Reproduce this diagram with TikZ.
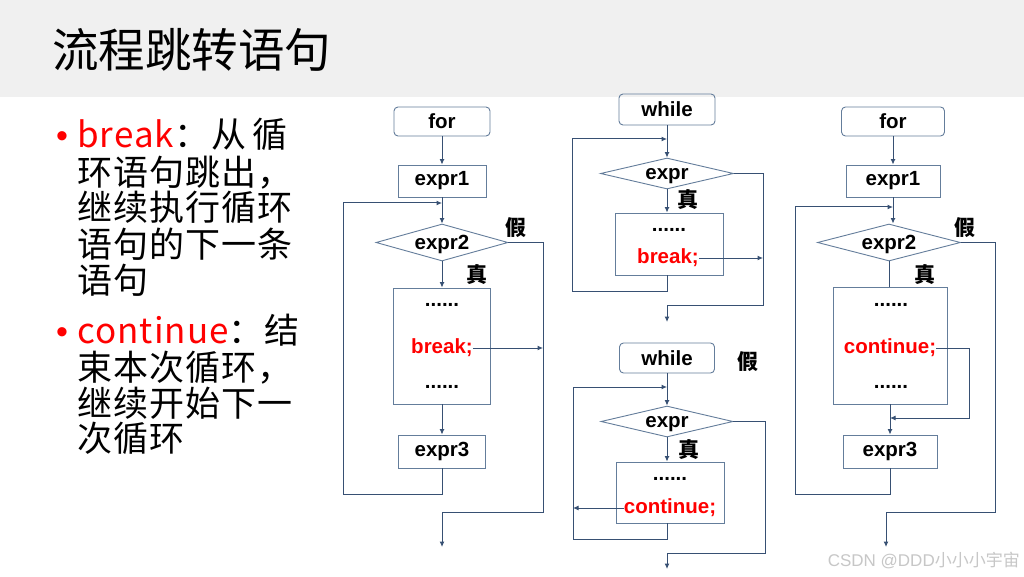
\documentclass[tikz,border=0pt]{standalone}
\usepackage{fontspec}
\setmainfont{Liberation Sans}
\newfontfamily\cjk{Noto Sans CJK SC}
\newfontfamily\bodyfont[LetterSpace=3]{Noto Sans CJK SC}
\newfontfamily\flowfont{Liberation Sans}
\usetikzlibrary{shapes.geometric, arrows.meta, positioning, calc}
\definecolor{flowline}{RGB}{55, 80, 115}
\definecolor{boxline}{RGB}{100, 125, 155}
\definecolor{headband}{RGB}{240, 240, 240}
\definecolor{markred}{RGB}{255, 0, 0}
\tikzstyle{headbox} = [rectangle, draw=boxline, rounded corners=4pt, inner sep=0pt, font=\flowfont\bfseries\fontsize{20.5}{22}\selectfont, line width=0.9pt]
\tikzstyle{exprbox} = [rectangle, draw=boxline, inner sep=0pt, font=\flowfont\bfseries\fontsize{20.5}{22}\selectfont, line width=0.9pt]
\tikzstyle{bodybox} = [rectangle, draw=boxline, inner sep=0pt, line width=0.9pt]
\tikzstyle{cond} = [diamond, draw=boxline, aspect=3.5, inner sep=0pt, text depth=0pt, font=\flowfont\bfseries\fontsize{20.5}{22}\selectfont, line width=0.9pt]
\tikzstyle{codetext} = [inner sep=0pt, font=\flowfont\bfseries\fontsize{20.5}{22}\selectfont]
\tikzstyle{jump} = [codetext, text=markred]
\tikzstyle{tf} = [inner sep=0pt, font=\cjk\bfseries\fontsize{21}{22}\selectfont]
\tikzstyle{txt} = [anchor=base west, inner sep=0pt, font=\bodyfont\fontsize{35}{38}\selectfont]
\tikzstyle{bul} = [anchor=base, inner sep=0pt, text=markred, font=\flowfont\fontsize{34}{34}\selectfont]
\tikzstyle{wire} = [draw=flowline, line width=1pt]
\tikzstyle{arrow} = [-{Latex[length=5.5pt, width=5pt]}, draw=flowline, line width=1pt]
\newcommand{\kw}[1]{{\color{markred}#1}}

\begin{document}
\begin{tikzpicture}[x=1pt, y=-1pt]
    \useasboundingbox (0,0) rectangle (1024,577);
    \fill[white] (0,0) rectangle (1024,577);
    \fill[headband] (0,0) rectangle (1024,97);

    % Title
    \node[anchor=base west, inner sep=0pt, font=\cjk\fontsize{46.5}{50}\selectfont] (title) at (52,68) {流程跳转语句};

    % Left text
    \node[bul] (bulA) at (62,148) {•};
    \node[txt] (lnA1) at (77,148) {\kw{break}：\hspace{2pt}从\hspace{6pt}循};
    \node[txt] (lnA2) at (77,186) {环语句跳出，};
    \node[txt] (lnA3) at (77,221) {继续执行循环};
    \node[txt] (lnA4) at (77,258) {语句的下一条};
    \node[txt] (lnA5) at (77,293) {语句};
    \node[bul] (bulB) at (62,343) {•};
    \node[txt] (lnB1) at (77,343) {\kw{continue}：结};
    \node[txt] (lnB2) at (77,380) {束本次循环，};
    \node[txt] (lnB3) at (77,416) {继续开始下一};
    \node[txt] (lnB4) at (77,451) {次循环};

    % for + break
    \node[headbox, minimum width=96pt, minimum height=29pt] (forA) at (442,121.5) {for};
    \node[exprbox, minimum width=88pt, minimum height=32pt] (initA) at (442,181) {expr1};
    \node[cond, minimum width=132pt, minimum height=37pt] (condA) at (442,242.5) {expr2};
    \node[bodybox, minimum width=97pt, minimum height=116pt] (bodyA) at (442,346) {};
    \node[codetext, anchor=base] (dotsA1) at (442,306) {......};
    \node[jump] (brkA) at (442,348) {break;};
    \node[codetext, anchor=base] (dotsA2) at (442,388) {......};
    \node[exprbox, minimum width=87pt, minimum height=33pt] (incrA) at (442,451.5) {expr3};
    \node[tf] (falseA) at (516,228) {假};
    \node[tf] (trueA) at (477,275) {真};
    \coordinate (loopA) at (343,494);
    \coordinate (joinA) at (442,203);
    \coordinate (exitA) at (543,512);
    \coordinate (outA) at (442,547);
    \draw[arrow] (forA) -- (initA);
    \draw[arrow] (initA) -- (condA);
    \draw[arrow] (condA) -- (bodyA);
    \draw[arrow] (bodyA) -- (incrA);
    \draw[arrow] (incrA.south) |- (loopA) |- (joinA);
    \draw[arrow] (condA.east) -| (exitA) -| (outA);
    \draw[arrow] (brkA.east) -- (brkA.east -| exitA);

    % while + break
    \node[headbox, minimum width=96pt, minimum height=31pt] (whileB) at (667,109.5) {while};
    \node[cond, minimum width=133pt, minimum height=31pt] (condB) at (667,173.5) {expr};
    \node[bodybox, minimum width=108pt, minimum height=62pt] (bodyB) at (669,244) {};
    \node[codetext, anchor=base] (dotsB) at (669,232) {......};
    \node[jump] (brkB) at (668,258) {break;};
    \node[tf] (trueB) at (688,200) {真};
    \coordinate (loopB) at (572,291);
    \coordinate (joinB) at (667,139);
    \coordinate (exitB) at (763,305);
    \coordinate (outB) at (667,322);
    \draw[arrow] (whileB) -- (condB);
    \draw[arrow] (condB) -- (condB.south |- bodyB.north);
    \draw[wire] (bodyB.south -| condB.south) |- (loopB);
    \draw[arrow] (loopB) |- (joinB);
    \draw[arrow] (condB.east) -| (exitB) -| (outB);
    \draw[arrow] (brkB.east) -- (brkB.east -| exitB);

    % while + continue
    \node[headbox, minimum width=95pt, minimum height=30pt] (whileC) at (667,358) {while};
    \node[cond, minimum width=132pt, minimum height=31pt] (condC) at (667,421.5) {expr};
    \node[bodybox, minimum width=108pt, minimum height=61pt] (bodyC) at (670,492.5) {};
    \node[codetext, anchor=base] (dotsC) at (670,480) {......};
    \node[jump] (contC) at (670,508) {continue;};
    \node[tf] (falseC) at (748,362) {假};
    \node[tf] (trueC) at (689,450) {真};
    \coordinate (loopC) at (573,539);
    \coordinate (joinC) at (667,387);
    \coordinate (exitC) at (765,553);
    \coordinate (outC) at (667,569);
    \draw[arrow] (whileC) -- (condC);
    \draw[arrow] (condC) -- (condC.south |- bodyC.north);
    \draw[wire] (bodyC.south -| condC.south) |- (loopC);
    \draw[arrow] (loopC) |- (joinC);
    \draw[arrow] (condC.east) -| (exitC) -| (outC);
    \draw[arrow] (contC.west) -- (contC.west -| loopC);

    % for + continue
    \node[headbox, minimum width=103pt, minimum height=29pt] (forD) at (893,121.5) {for};
    \node[exprbox, minimum width=94pt, minimum height=32pt] (initD) at (893,181) {expr1};
    \node[cond, minimum width=143pt, minimum height=37pt] (condD) at (889,242.5) {expr2};
    \node[bodybox, minimum width=114pt, minimum height=117pt] (bodyD) at (890,345.5) {};
    \node[codetext, anchor=base] (dotsD1) at (891,306) {......};
    \node[jump] (contD) at (890,348) {continue;};
    \node[codetext, anchor=base] (dotsD2) at (891,388) {......};
    \node[exprbox, minimum width=94pt, minimum height=33pt] (incrD) at (890,451.5) {expr3};
    \node[tf] (falseD) at (965,228) {假};
    \node[tf] (trueD) at (925,275) {真};
    \coordinate (loopD) at (795,494);
    \coordinate (joinD) at (893,207);
    \coordinate (exitD) at (995,512);
    \coordinate (outD) at (886,547);
    \coordinate (turnD) at (969,418);
    \coordinate (mergeD) at (890,418);
    \draw[arrow] (forD) -- (initD);
    \draw[arrow] (initD.south) -- (initD.south |- condD.north);
    \draw[wire] (condD.south) -- (condD.south |- bodyD.north);
    \draw[arrow] (bodyD) -- (incrD);
    \draw[arrow] (incrD.south) |- (loopD) |- (joinD);
    \draw[arrow] (condD.east) -| (exitD) -| (outD);
    \draw[arrow] (contD.east) -| (turnD) -- (mergeD);

    % Watermark
    \node[anchor=east, inner sep=0pt, text=black!22, font=\flowfont\fontsize{17}{18}\selectfont] (mark) at (1020,560) {CSDN @DDD{\cjk 小小小宇宙}};
\end{tikzpicture}
\end{document}
